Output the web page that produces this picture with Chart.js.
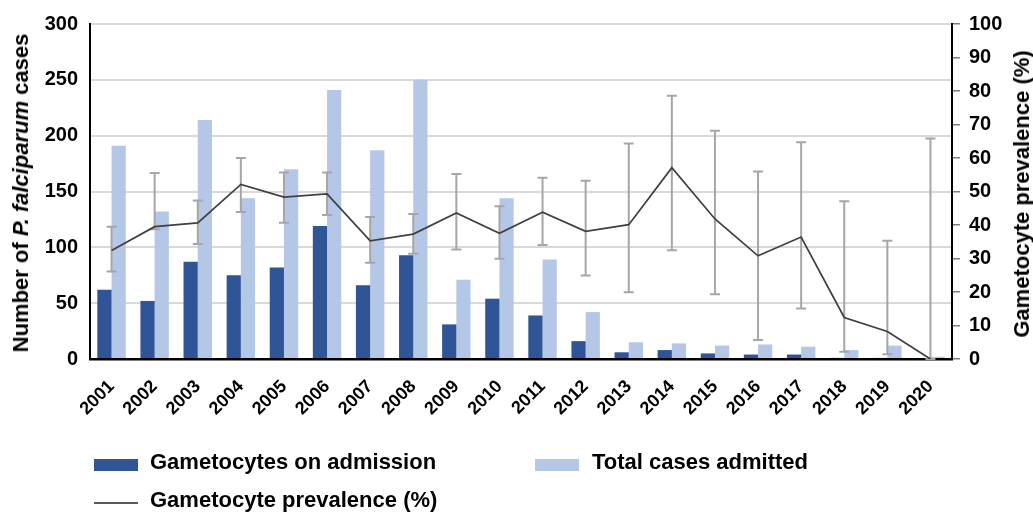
<!DOCTYPE html>
<html>
<head>
<meta charset="utf-8">
<script src="https://cdn.jsdelivr.net/npm/chart.js@4"></script>
<style>
  html, body { margin: 0; padding: 0; background: #fff; }
  #wrap { position: relative; width: 1033px; height: 514px; font-family: 'Liberation Sans', Arial, sans-serif; font-weight: bold; color: #000; }
  #wrap canvas { position: absolute; left: 0; top: 0; }
  .vtitle { position: absolute; font-size: 22px; line-height: 22px; white-space: nowrap; transform: translate(-50%, -50%) rotate(-90deg); }
  .leg { position: absolute; font-size: 22px; line-height: 22px; white-space: nowrap; }
  .swatch { position: absolute; }
</style>
</head>
<body>
<div id="wrap">
  <canvas id="chart" width="1033" height="514"></canvas>
  <div class="vtitle" style="left:20.7px; top:193px;">Number of <i>P. falciparum</i> cases</div>
  <div class="vtitle" style="left:1022.4px; top:194px;">Gametocyte prevalence (%)</div>

  <div class="swatch" style="left:94px; top:459px; width:44px; height:12px; background:#2F5597;"></div>
  <div class="leg" style="left:150px; top:451px;">Gametocytes on admission</div>
  <div class="swatch" style="left:535px; top:459px; width:44px; height:12px; background:#B4C7E7;"></div>
  <div class="leg" style="left:592px; top:451px;">Total cases admitted</div>
  <div class="swatch" style="left:94px; top:502px; width:44px; height:2px; background:#595959;"></div>
  <div class="leg" style="left:150px; top:489px;">Gametocyte prevalence (%)</div>
</div>
<script>
// Yearly admissions of P. falciparum cases and gametocyte carriage
const years = ['2001','2002','2003','2004','2005','2006','2007','2008','2009','2010',
               '2011','2012','2013','2014','2015','2016','2017','2018','2019','2020'];
const gametocyteCases = [62, 52, 87, 75, 82, 119, 66, 93, 31, 54, 39, 16, 6, 8, 5, 4, 4, 1, 1, 0];
const totalCases      = [191, 132, 214, 144, 170, 241, 187, 250, 71, 144, 89, 42, 15, 14, 12, 13, 11, 8, 12, 2];
const prevalence      = [32.4, 39.5, 40.6, 52.1, 48.3, 49.3, 35.3, 37.3, 43.6, 37.5,
                         43.8, 38.1, 40.1, 57.1, 41.8, 30.8, 36.4, 12.4, 8.2, 0];
const prevalenceUpper = [39.5, 55.5, 47.3, 60.0, 55.7, 55.7, 42.4, 43.3, 55.2, 45.6,
                         54.1, 53.2, 64.3, 78.6, 68.1, 56.0, 64.7, 47.1, 35.3, 65.8];
const prevalenceLower = [26.1, 38.7, 34.3, 43.9, 40.7, 43.0, 28.7, 31.4, 32.7, 29.9,
                         34.0, 24.9, 19.9, 32.5, 19.3, 5.7, 15.1, 2.2, 1.4, 0];
const casesTicks = [0, 50, 100, 150, 200, 250, 300];
const percentTicks = [0, 10, 20, 30, 40, 50, 60, 70, 80, 90, 100];

Chart.defaults.font.family = "'Liberation Sans', Arial, sans-serif";
Chart.defaults.font.weight = 'bold';
Chart.defaults.color = '#000';

// Confidence interval whiskers around the prevalence line
const errorBars = {
  id: 'errorBars',
  beforeDatasetDraw(chart, args) {
    if (args.index !== 0) return;
    const meta = chart.getDatasetMeta(0);
    const yScale = chart.scales.y1;
    const ctx = chart.ctx;
    ctx.save();
    ctx.strokeStyle = '#a6a6a6';
    ctx.lineWidth = 2;
    meta.data.forEach((pt, i) => {
      const x = pt.x;
      const yTop = yScale.getPixelForValue(prevalenceUpper[i]);
      const yBot = yScale.getPixelForValue(prevalenceLower[i]);
      ctx.beginPath();
      ctx.moveTo(x, yTop); ctx.lineTo(x, yBot);
      ctx.moveTo(x - 5, yTop); ctx.lineTo(x + 5, yTop);
      ctx.moveTo(x - 5, yBot); ctx.lineTo(x + 5, yBot);
      ctx.stroke();
    });
    ctx.restore();
  }
};

new Chart(document.getElementById('chart'), {
  type: 'bar',
  data: {
    labels: years,
    datasets: [
      {
        type: 'line',
        label: 'Gametocyte prevalence (%)',
        data: prevalence,
        yAxisID: 'y1',
        borderColor: '#404040',
        borderWidth: 1.75,
        pointRadius: 0,
        tension: 0,
        fill: false,
        order: 0
      },
      {
        label: 'Gametocytes on admission',
        data: gametocyteCases,
        yAxisID: 'y',
        backgroundColor: '#2F5597',
        categoryPercentage: 0.66,
        barPercentage: 1.0,
        order: 1
      },
      {
        label: 'Total cases admitted',
        data: totalCases,
        yAxisID: 'y',
        backgroundColor: '#B4C7E7',
        categoryPercentage: 0.66,
        barPercentage: 1.0,
        order: 2
      }
    ]
  },
  options: {
    responsive: false,
    animation: false,
    layout: { padding: { top: 24, left: 0, right: 0, bottom: 0 } },
    plugins: {
      legend: { display: false },
      tooltip: { enabled: false }
    },
    scales: {
      x: {
        grid: { display: false },
        border: { display: true, color: '#000', width: 2.5 },
        ticks: {
          autoSkip: false,
          minRotation: 45,
          maxRotation: 45,
          padding: 9,
          font: { size: 18, weight: 'bold' }
        },
        afterFit(scale) { scale.height = 155; }
      },
      y: {
        position: 'left',
        min: 0,
        max: 300,
        afterBuildTicks(scale) { scale.ticks = casesTicks.map(v => ({ value: v })); },
        grid: {
          drawTicks: false,
          lineWidth: 2,
          color: ctx => (ctx.tick && ctx.tick.value === 0) ? 'rgba(0,0,0,0)' : '#d9d9d9'
        },
        border: { display: true, color: '#000', width: 2 },
        ticks: { padding: 12, font: { size: 20, weight: 'bold' } },
        afterFit(scale) { scale.width = 90; }
      },
      y1: {
        position: 'right',
        min: 0,
        max: 100,
        afterBuildTicks(scale) { scale.ticks = percentTicks.map(v => ({ value: v })); },
        grid: {
          drawOnChartArea: false,
          drawTicks: true,
          tickLength: 8,
          lineWidth: 1.5,
          color: '#7f7f7f'
        },
        border: { display: true, color: '#000', width: 2 },
        ticks: { padding: 9, font: { size: 20, weight: 'bold' } },
        afterFit(scale) { scale.width = 81; }
      }
    }
  },
  plugins: [errorBars]
});
</script>
</body>
</html>
